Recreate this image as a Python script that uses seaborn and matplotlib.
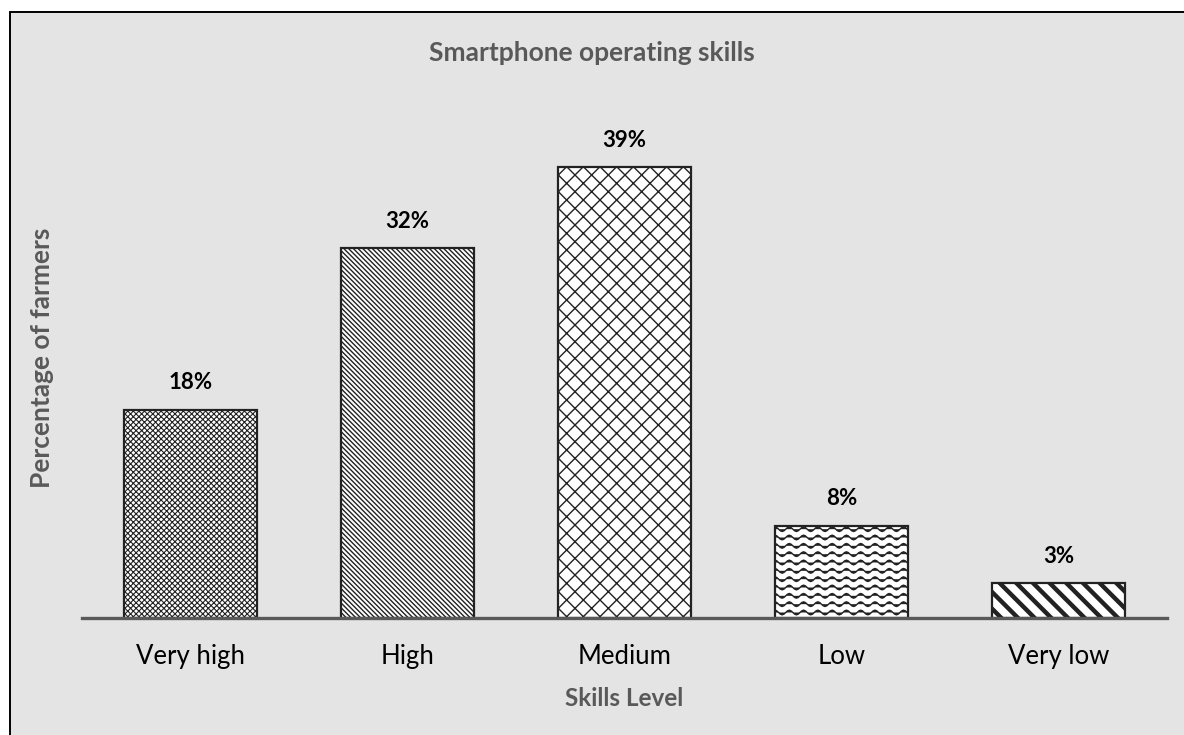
import warnings
import numpy as np
import matplotlib
matplotlib.use("Agg")
import matplotlib.pyplot as plt
import matplotlib.hatch as mhatch
from matplotlib.path import Path
from matplotlib.patches import Rectangle
import seaborn as sns

warnings.filterwarnings("ignore")

# Survey results
levels = ["Very high", "High", "Medium", "Low", "Very low"]
shares = [18, 32, 39, 8, 3]
value_labels = ["18%", "32%", "39%", "8%", "3%"]


class WaveHatch(mhatch.HatchPatternBase):
    """Horizontal wavy lines for the '~' hatch character."""
    periods = 7
    samples = 8

    def __init__(self, hatch, density):
        self.num_lines = int(hatch.count("~") * density)
        self.pts = self.periods * self.samples + 1
        self.num_vertices = self.num_lines * self.pts

    def set_vertices_and_codes(self, vertices, codes):
        rows, step = np.linspace(0.0, 1.0, self.num_lines, False, retstep=True)
        rows += step / 2.0
        xs = np.linspace(0.0, 1.0, self.pts)
        amp = step * 0.28
        wave = amp * np.sin(2 * np.pi * self.periods * xs)
        for i, y0 in enumerate(rows):
            sl = slice(i * self.pts, (i + 1) * self.pts)
            vertices[sl, 0] = xs
            vertices[sl, 1] = y0 + wave
            codes[sl] = Path.LINETO
            codes[i * self.pts] = Path.MOVETO


if WaveHatch not in mhatch._hatch_types:
    mhatch._hatch_types.append(WaveHatch)

sns.set_theme(style="white")
plt.rcParams["font.family"] = ["Lato", "DejaVu Sans"]

W, H = 1184, 735
fig = plt.figure(figsize=(W / 100, H / 100), dpi=100)
fig.patch.set_facecolor("white")

# Grey panel with a black frame on the top and left
panel = Rectangle((9.5 / W, -0.01), 1.02, (H - 11.5) / H + 0.01,
                  transform=fig.transFigure, facecolor="#e4e4e4",
                  edgecolor="black", linewidth=1.4, zorder=-5)
fig.patches.append(panel)

ax = fig.add_axes([82 / W, (H - 618) / H, (1167 - 82) / W, 520 / H])
ax.set_facecolor("none")
ax.set_zorder(2)

sns.barplot(x=levels, y=shares, ax=ax, color="white", width=0.61,
            edgecolor="#555555", linewidth=1.6, saturation=1)

hatches = ["xxxxxx", "\\" * 7, "xx", "~~", "\\\\"]
hatch_widths = [0.8, 1.0, 1.0, 1.0, 3.2]
for patch, hatch, hw in zip(ax.patches, hatches, hatch_widths):
    patch.set_hatch(hatch)
    patch.set_facecolor("white")
    if hasattr(patch, "set_hatchcolor"):
        patch.set_hatchcolor("#111111")
    else:
        patch.set_edgecolor("#222222")
    if hasattr(patch, "set_hatch_linewidth"):
        patch.set_hatch_linewidth(hw)

for i, (v, lab) in enumerate(zip(shares, value_labels)):
    ax.annotate(lab, (i, v), xytext=(0, 12), textcoords="offset points",
                ha="center", va="bottom", fontsize=16, fontweight="bold",
                color="black")

ax.set_xlim(-0.5, 4.5)
ax.set_ylim(0, 45)
ax.set_yticks([])
for side in ["left", "top", "right"]:
    ax.spines[side].set_visible(False)
ax.spines["bottom"].set_color("#595959")
ax.spines["bottom"].set_linewidth(2.4)
ax.tick_params(axis="x", length=0, pad=19, labelsize=18.5, labelcolor="black")

ax.set_xlabel("Skills Level", fontsize=17.5, fontweight="bold", color="#595959",
              labelpad=13)
ax.set_ylabel("Percentage of farmers", fontsize=19, fontweight="bold",
              color="#595959", labelpad=20)

fig.text(0.5, (H - 53) / H, "Smartphone operating skills", ha="center",
         va="center", fontsize=19, fontweight="bold", color="#595959")

fig.savefig("out.png", dpi=100)
